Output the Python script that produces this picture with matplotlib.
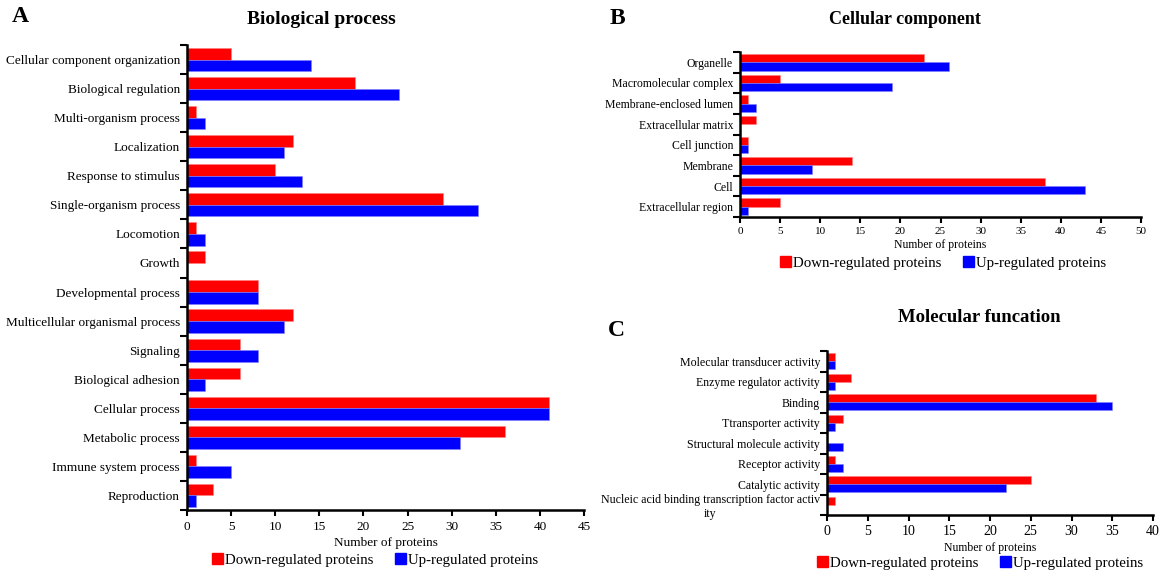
import matplotlib
matplotlib.use("Agg")
import numpy as np
import matplotlib.pyplot as plt
from matplotlib.patches import Patch

plt.rcParams['font.family'] = ['Liberation Serif', 'DejaVu Serif']

# panel A - biological process
bp_terms = ["Cellular component organization", "Biological regulation", "Multi-organism process",
            "Localization", "Response to stimulus", "Single-organism process", "Locomotion",
            "Growth", "Developmental process", "Multicellular organismal process", "Signaling",
            "Biological adhesion", "Cellular process", "Metabolic process",
            "Immune system process", "Reproduction"]
bp_down = [5, 19, 1, 12, 10, 29, 1, 2, 8, 12, 6, 6, 41, 36, 1, 3]
bp_up = [14, 24, 2, 11, 13, 33, 2, 0, 8, 11, 8, 2, 41, 31, 5, 1]

# panel B - cellular component
cc_terms = ["Organelle", "Macromolecular complex", "Membrane-enclosed lumen",
            "Extracellular matrix", "Cell junction", "Membrane", "Cell", "Extracellular region"]
cc_down = [23, 5, 1, 2, 1, 14, 38, 5]
cc_up = [26, 19, 2, 0, 1, 9, 43, 1]

# panel C - molecular function
mf_terms = ["Molecular transducer activity", "Enzyme regulator activity", "Binding",
            "Ttransporter activity", "Structural molecule activity", "Receptor activity",
            "Catalytic activity", "Nucleic acid binding transcription factor activ\nity"]
mf_down = [1, 3, 33, 2, 0, 1, 25, 1]
mf_up = [1, 1, 35, 1, 2, 2, 22, 0]

RED = "#ff0000"
BLUE = "#0000ff"
W, H = 1160, 570


def box(l, r, t, b):
    return [l / W, 1 - b / H, (r - l) / W, (b - t) / H]


def panel(ax, terms, down, up, xmax, lab_fs, tick_fs, xl_fs, tpad, lpad, h=0.4):
    n = len(terms)
    y = np.arange(n)
    ax.barh(y - h / 2, down, height=h, color=RED, edgecolor="#ff8080", linewidth=0.4)
    ax.barh(y + h / 2, up, height=h, color=BLUE, edgecolor="#8080ff", linewidth=0.4)
    ax.set_ylim(n - 0.5, -0.5)
    ax.set_xlim(0, xmax)
    ax.set_xticks(np.arange(0, xmax + 1, 5))
    ax.set_yticks(np.arange(n + 1) - 0.5)
    ax.set_yticklabels([])
    ax.set_yticks(y, minor=True)
    ax.set_yticklabels(terms, minor=True, fontsize=lab_fs)
    for t in ax.get_yticklabels(minor=True):
        t.set_multialignment("center")
    ax.tick_params(axis="y", which="minor", length=0, pad=5)
    ax.tick_params(axis="y", which="major", length=5, width=1.5, direction="out")
    ax.tick_params(axis="x", length=4, width=1.5, direction="out", labelsize=tick_fs, pad=tpad)
    for s in ["top", "right"]:
        ax.spines[s].set_visible(False)
    for s in ["left", "bottom"]:
        ax.spines[s].set_linewidth(1.8)
    ax.set_xlabel("Number of proteins", fontsize=xl_fs, labelpad=lpad)


def legend(cx, cy, fs):
    handles = [Patch(color=RED), Patch(color=BLUE)]
    fig.legend(handles, ["Down-regulated proteins", "Up-regulated proteins"],
               loc="center", bbox_to_anchor=(cx / W, 1 - cy / H), ncol=2, frameon=False,
               fontsize=fs, handlelength=0.75, handleheight=0.75, handletextpad=0.15,
               columnspacing=1.4, borderaxespad=0)


fig = plt.figure(figsize=(11.6, 5.7), dpi=100)

axA = fig.add_axes(box(187, 584, 45, 510))
panel(axA, bp_terms, bp_down, bp_up, 45, 9.5, 9.5, 9.5, 4, 3)
axB = fig.add_axes(box(740, 1141, 52, 217))
panel(axB, cc_terms, cc_down, cc_up, 50, 8.5, 8, 8.5, 3, 2)
axC = fig.add_axes(box(827, 1153, 351, 515))
panel(axC, mf_terms, mf_down, mf_up, 40, 8.6, 10, 8.5, 3, 3, h=0.38)

fig.text(321 / W, 1 - 20 / H, "Biological process", fontsize=14, fontweight="bold", ha="center", va="center")
fig.text(905 / W, 1 - 20 / H, "Cellular component", fontsize=13, fontweight="bold", ha="center", va="center")
fig.text(979 / W, 1 - 318 / H, "Molecular funcation", fontsize=13.5, fontweight="bold", ha="center", va="center")
fig.text(12 / W, 1 - 16 / H, "A", fontsize=17, fontweight="bold", ha="left", va="center")
fig.text(610 / W, 1 - 19 / H, "B", fontsize=17, fontweight="bold", ha="left", va="center")
fig.text(608 / W, 1 - 330 / H, "C", fontsize=17, fontweight="bold", ha="left", va="center")

legend(375, 560, 10.7)
legend(943, 263, 10.7)
legend(980, 563, 10.7)

fig.savefig("out.png", dpi=100)
